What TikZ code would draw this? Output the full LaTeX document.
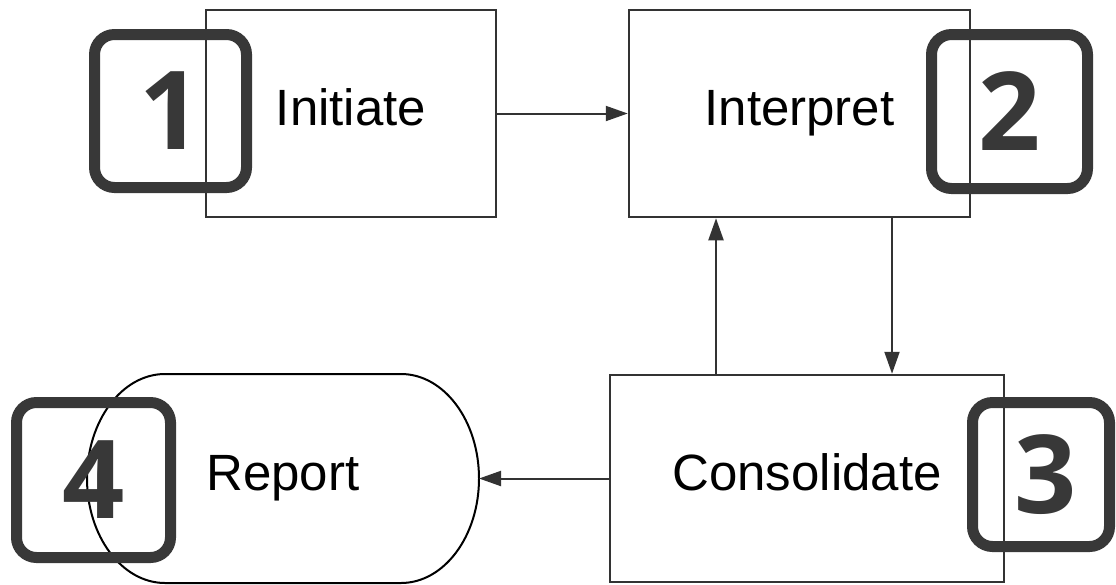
\documentclass[tikz,border=0pt]{standalone}
\usepackage{fontspec}
\setmainfont{Liberation Sans}
\newfontfamily\digitfont{Open Sans}
\usetikzlibrary{arrows.meta}
\definecolor{badgegray}{HTML}{383838}
\definecolor{linegray}{HTML}{333333}
\tikzset{
  stepbox/.style={draw=linegray,line width=2.5pt,fill=white,inner sep=0pt,minimum height=207pt,
    text height=23pt,text depth=0pt,font=\fontsize{51}{60}\selectfont},
  badge/.style={draw=badgegray,line width=11pt,rounded corners=20pt,inner sep=0pt,
    text=badgegray,font=\digitfont\bfseries\fontsize{109}{120}\selectfont},
  flow/.style={draw=linegray,line width=2pt,-{Triangle[length=22pt,width=15pt]}}
}
\begin{document}
\begin{tikzpicture}[x=1pt,y=-1pt]
  \useasboundingbox (0,0) rectangle (1116,584);
  %boxes
  \node[stepbox,minimum width=290pt] (init) at (351,113.5) {Initiate};
  \node[stepbox,minimum width=341pt] (interp) at (799.5,113.5) {Interpret};
  \node[stepbox,minimum width=394pt] (cons) at (807,478.5) {Consolidate};
  \node[stepbox,draw=none,fill=none,outer sep=0pt,minimum width=392pt,minimum height=209pt] (report) at (283,478.5) {Report};
  \draw[black,line width=2pt] ([xshift=78pt]report.north west) -- ([xshift=-78pt]report.north east)
    arc[start angle=90,end angle=-90,x radius=78pt,y radius=104.5pt]
    -- ([xshift=78pt]report.south west)
    arc[start angle=270,end angle=90,x radius=78pt,y radius=104.5pt] -- cycle;
  %badges
  \node[badge,minimum width=152pt,minimum height=153pt] (b1) at (170.5,111) {1};
  \node[badge,minimum width=156pt,minimum height=154pt] (b2) at (1009.5,111.5) {2};
  \node[badge,minimum width=137pt,minimum height=144pt] (b3) at (1041,474.5) {\hspace{10pt}3};
  \node[badge,minimum width=154pt,minimum height=155pt] (b4) at (93.5,480) {4};
  %arrows
  \draw[flow] (init.east) -- (interp.west);
  \draw[flow] ([xshift=92.5pt]interp.south) -- ([xshift=85pt]cons.north);
  \draw[flow] ([xshift=-91pt]cons.north) -- ([xshift=-83.5pt]interp.south);
  \draw[flow] (cons.west) -- (report.east);
\end{tikzpicture}
\end{document}
